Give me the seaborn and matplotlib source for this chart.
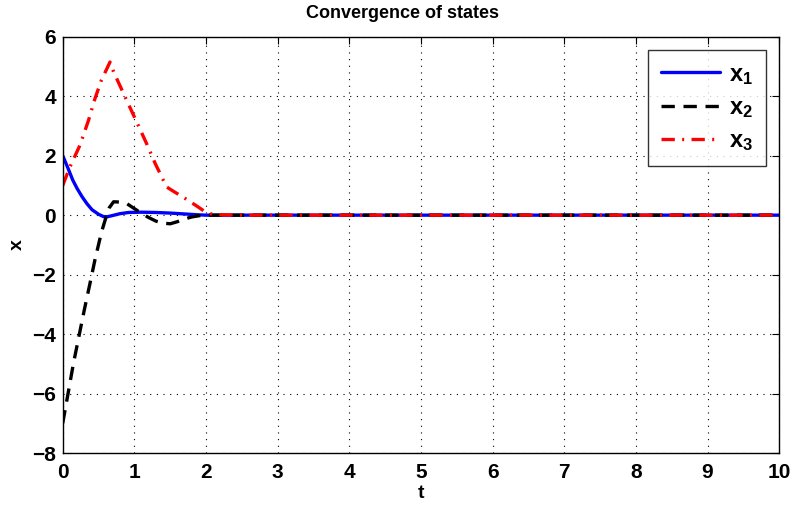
import matplotlib
matplotlib.use("Agg")
import matplotlib.pyplot as plt
import seaborn as sns
import numpy as np

# ---- data ----
t1 = [0.0, 0.07, 0.14, 0.2, 0.27, 0.34, 0.41, 0.5, 0.57, 0.63, 0.7, 0.8, 0.92, 1.1, 1.3, 1.5, 1.7, 1.9, 2.0,
      3, 4, 5, 6, 7, 8, 9, 10]
x1 = [2.0, 1.6, 1.18, 0.9, 0.62, 0.38, 0.18, 0.03, -0.05, -0.05, -0.01, 0.05, 0.09, 0.1, 0.09, 0.07, 0.04, 0.01, 0.0,
      0, 0, 0, 0, 0, 0, 0, 0]

t2 = [0.0, 0.15, 0.3, 0.38, 0.45, 0.54, 0.6, 0.65, 0.71, 0.8, 0.9, 1.0, 1.1, 1.2, 1.3, 1.4, 1.5, 1.6, 1.7, 1.8, 1.9, 2.0,
      3, 4, 5, 6, 7, 8, 9, 10]
x2 = [-7.0, -4.98, -3.2, -2.3, -1.5, -0.58, -0.1, 0.25, 0.45, 0.44, 0.38, 0.22, 0.06, -0.08, -0.2, -0.27, -0.29, -0.22, -0.13, -0.06, -0.02, 0.0,
      0, 0, 0, 0, 0, 0, 0, 0]

t3 = [0.0, 0.1, 0.24, 0.36, 0.45, 0.54, 0.66, 0.71, 0.87, 1.01, 1.17, 1.29, 1.45, 1.52, 1.71, 1.85, 1.99, 2.1, 2.5,
      3, 4, 5, 6, 7, 8, 9, 10]
x3 = [1.0, 1.62, 2.35, 3.19, 3.92, 4.54, 5.15, 4.82, 3.98, 3.25, 2.41, 1.74, 0.95, 0.84, 0.56, 0.34, 0.11, 0.02, 0.0,
      0, 0, 0, 0, 0, 0, 0, 0]

labels = [r'$\mathbf{x_1}$', r'$\mathbf{x_2}$', r'$\mathbf{x_3}$']
xticks = list(range(0, 11))
yticks = list(range(-8, 7, 2))

sns.set_theme(style="white")
plt.rcParams['font.family'] = ['Liberation Sans', 'DejaVu Sans']
plt.rcParams['font.weight'] = 'bold'
plt.rcParams['text.color'] = 'black'
plt.rcParams['axes.labelcolor'] = 'black'
plt.rcParams['xtick.color'] = 'black'
plt.rcParams['ytick.color'] = 'black'
plt.rcParams['mathtext.fontset'] = 'custom'
plt.rcParams['mathtext.rm'] = 'Liberation Sans:bold'
plt.rcParams['mathtext.bf'] = 'Liberation Sans:bold'
plt.rcParams['mathtext.it'] = 'Liberation Sans:bold'

fig = plt.figure(figsize=(7.93, 5.12), dpi=100)
ax = fig.add_axes([0.0791, 0.1152, 0.9035, 0.813])

sns.lineplot(x=t1, y=x1, ax=ax, color='#0000ff', lw=2.4, sort=False, estimator=None, label=labels[0])
sns.lineplot(x=t2, y=x2, ax=ax, color='black', lw=2.4, sort=False, estimator=None, label=labels[1],
             linestyle=(0, (4, 2.6)))
sns.lineplot(x=t3, y=x3, ax=ax, color='#ff0000', lw=2.4, sort=False, estimator=None, label=labels[2],
             linestyle=(0, (4, 2.2, 0.6, 2.2)))

ax.set_xlim(0, 10)
ax.set_ylim(-8, 6)
ax.set_xticks(xticks)
ax.set_yticks(yticks)
ax.set_xticklabels([str(v) for v in xticks])
ax.set_yticklabels([str(v).replace('-', '\u2212') for v in yticks])
ax.tick_params(axis='both', direction='in', top=True, right=True, length=5, width=0.8,
               labelsize=15, colors='black')
ax.tick_params(axis='x', pad=7)
ax.tick_params(axis='y', pad=5)
for lab in ax.get_xticklabels() + ax.get_yticklabels():
    lab.set_fontweight('bold')
ax.grid(True, linestyle=(0, (1, 5)), color='black', lw=0.8)
for s in ax.spines.values():
    s.set_color('black')
    s.set_linewidth(1.0)

ax.set_xlabel('t', fontsize=14, fontweight='bold', labelpad=2, color='black')
ax.set_ylabel('x', fontsize=14, fontweight='bold', labelpad=4, color='black')
fig.text(402 / 793, 1 - 13 / 512, 'Convergence of states', fontsize=13, fontweight='bold',
         color='black', ha='center', va='center')

leg = ax.legend(loc='upper right', fontsize=17, handlelength=2.5, frameon=True, fancybox=False,
                edgecolor='black', borderaxespad=0.55, labelspacing=0.4, handletextpad=0.4,
                borderpad=0.55)
leg.get_frame().set_linewidth(1.0)

fig.savefig('out.png', dpi=100)
